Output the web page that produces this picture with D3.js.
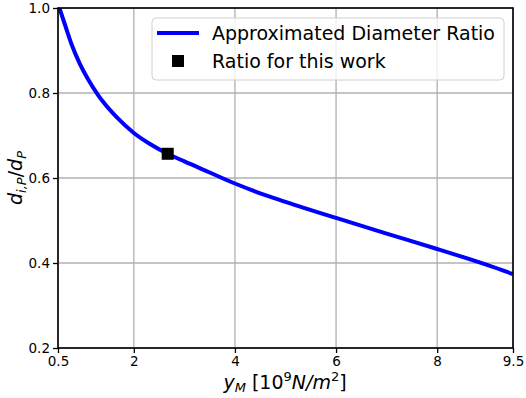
<!DOCTYPE html>
<html>
<head>
<meta charset="utf-8">
<script src="https://cdn.jsdelivr.net/npm/d3@7"></script>
<style>
  body { margin: 0; background: #fff; }
  text { font-family: "DejaVu Sans", sans-serif; }
</style>
</head>
<body>
<svg id="chart" width="526" height="398"></svg>
<script>
// values (starts just above 1.0, clipped by the axes)
const ymValues = [0.5, 0.64, 0.77, 0.93, 1.1, 1.3, 1.4, 1.66, 2.0, 2.32, 2.67, 3.0, 3.5, 4.0, 4.5, 5.0, 6.0, 7.0, 8.0, 9.0, 9.5];
const ratioValues = [1.01, 0.960, 0.914, 0.869, 0.831, 0.794, 0.778, 0.743, 0.706, 0.680, 0.657, 0.639, 0.613, 0.587, 0.564, 0.544, 0.506, 0.469, 0.433, 0.395, 0.374];
const workPoint = [2.67, 0.657];
const xTicks = [0.5, 2, 4, 6, 8, 9.5];
const yTicks = [0.2, 0.4, 0.6, 0.8, 1.0];
const legendLabels = ["Approximated Diameter Ratio", "Ratio for this work"];

const svg = d3.select("#chart");
const margin = {top: 8, right: 13, bottom: 50, left: 58};
const width = 526 - margin.left - margin.right;
const height = 398 - margin.top - margin.bottom;

svg.append("defs").append("clipPath")
    .attr("id", "plot-clip")
    .append("rect")
    .attr("width", width)
    .attr("height", height);

const g = svg.append("g")
    .attr("transform", `translate(${margin.left}, ${margin.top})`);

const x = d3.scaleLinear().domain([0.5, 9.5]).range([0, width]);
const y = d3.scaleLinear().domain([0.2, 1.0]).range([height, 0]);

// grid
g.append("g").selectAll("line")
    .data(xTicks)
    .join("line")
    .attr("x1", d => x(d)).attr("x2", d => x(d))
    .attr("y1", 0).attr("y2", height)
    .attr("stroke", "#b0b0b0")
    .attr("stroke-width", 1.3);

g.append("g").selectAll("line")
    .data(yTicks)
    .join("line")
    .attr("x1", 0).attr("x2", width)
    .attr("y1", d => y(d)).attr("y2", d => y(d))
    .attr("stroke", "#b0b0b0")
    .attr("stroke-width", 1.3);

// curve
const curveData = ymValues.map((v, i) => [v, ratioValues[i]]);
g.append("path")
    .datum(curveData)
    .attr("clip-path", "url(#plot-clip)")
    .attr("fill", "none")
    .attr("stroke", "#0000ff")
    .attr("stroke-width", 4)
    .attr("d", d3.line().x(d => x(d[0])).y(d => y(d[1])).curve(d3.curveMonotoneX));

// marker
g.append("rect")
    .attr("x", x(workPoint[0]) - 6)
    .attr("y", y(workPoint[1]) - 6)
    .attr("width", 12)
    .attr("height", 12)
    .attr("fill", "#000");

// axes
const xAxis = g.append("g")
    .attr("transform", `translate(0, ${height})`)
    .call(d3.axisBottom(x).tickValues(xTicks).tickFormat(d3.format("")).tickSizeOuter(0).tickSize(5).tickPadding(3));
const yAxis = g.append("g")
    .call(d3.axisLeft(y).tickValues(yTicks).tickFormat(d3.format(".1f")).tickSizeOuter(0).tickSize(5).tickPadding(3));

[xAxis, yAxis].forEach(a => {
    a.selectAll("text").style("font-size", "13.5px").style("font-family", "DejaVu Sans").attr("fill", "#000");
    a.selectAll("line").attr("stroke", "#000").attr("stroke-width", 1.3);
    a.select(".domain").remove();
});

// frame
g.append("rect")
    .attr("width", width)
    .attr("height", height)
    .attr("fill", "none")
    .attr("stroke", "#000")
    .attr("stroke-width", 1.6);

// x label
const xl = svg.append("text")
    .attr("x", 285)
    .attr("y", 389)
    .attr("text-anchor", "middle")
    .style("font-size", "19px");
xl.append("tspan").style("font-style", "italic").text("y");
xl.append("tspan").style("font-style", "italic").style("font-size", "13px").attr("dy", 3).text("M");
xl.append("tspan").attr("dy", -3).text(" [10");
xl.append("tspan").style("font-size", "13px").attr("dy", -8).text("9");
xl.append("tspan").style("font-style", "italic").attr("dy", 8).text("N/m");
xl.append("tspan").style("font-size", "13px").attr("dy", -8).text("2");
xl.append("tspan").attr("dy", 8).text("]");

// y label
const yl = svg.append("text")
    .attr("transform", "translate(22, 178) rotate(-90)")
    .attr("text-anchor", "middle")
    .style("font-size", "19px");
yl.append("tspan").style("font-style", "italic").text("d");
yl.append("tspan").style("font-style", "italic").style("font-size", "13px").attr("dy", 4).text("i,P");
yl.append("tspan").attr("dy", -4).text("/");
yl.append("tspan").style("font-style", "italic").text("d");
yl.append("tspan").style("font-style", "italic").style("font-size", "13px").attr("dy", 4).text("P");

// legend
const legend = svg.append("g").attr("transform", "translate(152, 18)");
legend.append("rect")
    .attr("width", 352)
    .attr("height", 62)
    .attr("rx", 4)
    .attr("fill", "#fff")
    .attr("fill-opacity", 0.8)
    .attr("stroke", "#d0d0d0")
    .attr("stroke-width", 1);

legend.append("line")
    .attr("x1", 5).attr("x2", 47)
    .attr("y1", 15).attr("y2", 15)
    .attr("stroke", "#0000ff")
    .attr("stroke-width", 4);
legend.append("rect")
    .attr("x", 20).attr("y", 37)
    .attr("width", 12).attr("height", 12)
    .attr("fill", "#000");

legend.selectAll("text.lab")
    .data(legendLabels)
    .join("text")
    .attr("class", "lab")
    .attr("x", 60)
    .attr("y", (d, i) => 15 + i * 28)
    .attr("dy", "0.35em")
    .style("font-size", "19px")
    .attr("fill", "#000")
    .text(d => d);
</script>
</body>
</html>
